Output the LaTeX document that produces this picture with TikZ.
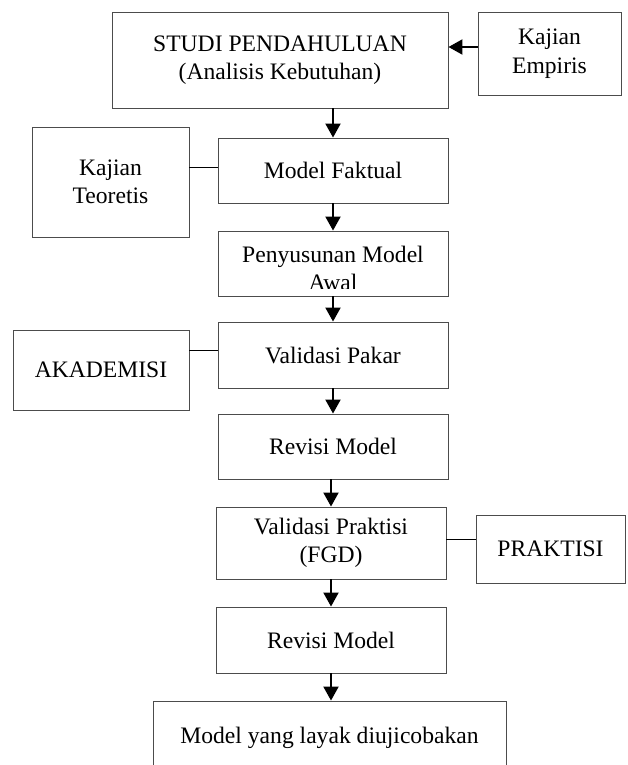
\documentclass[tikz,border=0pt]{standalone}
\usepackage{fontspec}
\setmainfont{Liberation Serif}
\usetikzlibrary{arrows.meta}

\begin{document}
\begin{tikzpicture}[x = 1pt, y = -1pt,
  kotak/.style = {draw = black!70, line width = 0.9pt, inner sep = 0pt, align = center, font = \fontsize{23.6}{28.5}\selectfont},
  panah/.style = {-{Triangle[width = 15pt, length = 14pt]}, line width = 2pt},
  garis/.style = {line width = 0.9pt}]

\useasboundingbox (0, 0) rectangle (628, 765);

\node[kotak, minimum width = 336pt, minimum height = 96pt] (studi) at (280, 60) {STUDI PENDAHULUAN\\(Analisis Kebutuhan)};
\node[kotak, minimum width = 143pt, minimum height = 83pt] (empiris) at (549.5, 53.5) {Kajian\\Empiris};

\node[kotak, minimum width = 157pt, minimum height = 110pt] (teoretis) at (110.5, 182) {Kajian\\Teoretis};
\node[kotak, minimum width = 230pt, minimum height = 65pt] (faktual) at (333, 170.5) {Model Faktual};

\node[kotak, minimum width = 230pt, minimum height = 65pt] (awal) at (333, 263.5) {};
\begin{scope}
\clip (awal.north west) rectangle ([yshift = 8pt]awal.south east);
\node[kotak, draw = none] (awaltext) at ([yshift = -5pt]awal.center) {Penyusunan Model\\Awal};
\end{scope}

\node[kotak, minimum width = 176pt, minimum height = 80pt] (akademisi) at (101, 370) {AKADEMISI};
\node[kotak, minimum width = 230pt, minimum height = 66pt] (pakar) at (333, 355) {Validasi Pakar};
\node[kotak, minimum width = 230pt, minimum height = 65pt] (revisi) at (333, 446.5) {Revisi Model};

\node[kotak, minimum width = 230pt, minimum height = 72pt] (vpraktisi) at (331, 543) {Validasi Praktisi\\(FGD)};
\node[kotak, minimum width = 149pt, minimum height = 68pt] (praktisi) at (550.5, 549) {PRAKTISI};
\node[kotak, minimum width = 230pt, minimum height = 66pt] (revisi2) at (331, 640) {Revisi Model};

\node[kotak, minimum width = 353pt, minimum height = 74pt] (layak) at (329.5, 738) {Model yang layak diujicobakan};

\draw[panah] ([yshift = 6.5pt]empiris.west) -- ([yshift = 6.5pt]empiris.west -| studi.east);
\draw[panah] (faktual.north |- studi.south) -- (faktual.north);
\draw[panah] (faktual) -- (awal);
\draw[panah] (awal) -- (pakar);
\draw[panah] (pakar) -- (revisi);
\draw[panah] (vpraktisi.north |- revisi.south) -- (vpraktisi.north);
\draw[panah] (vpraktisi) -- (revisi2);
\draw[panah] (revisi2.south) -- (revisi2.south |- layak.north);

\draw[garis] ([yshift = 3.5pt]faktual.west) -- ([yshift = 3.5pt]faktual.west -| teoretis.east);
\draw[garis] ([yshift = 5pt]pakar.west) -- ([yshift = 5pt]pakar.west -| akademisi.east);
\draw[garis] ([yshift = 4pt]vpraktisi.east) -- ([yshift = 4pt]vpraktisi.east -| praktisi.west);

\end{tikzpicture}
\end{document}
